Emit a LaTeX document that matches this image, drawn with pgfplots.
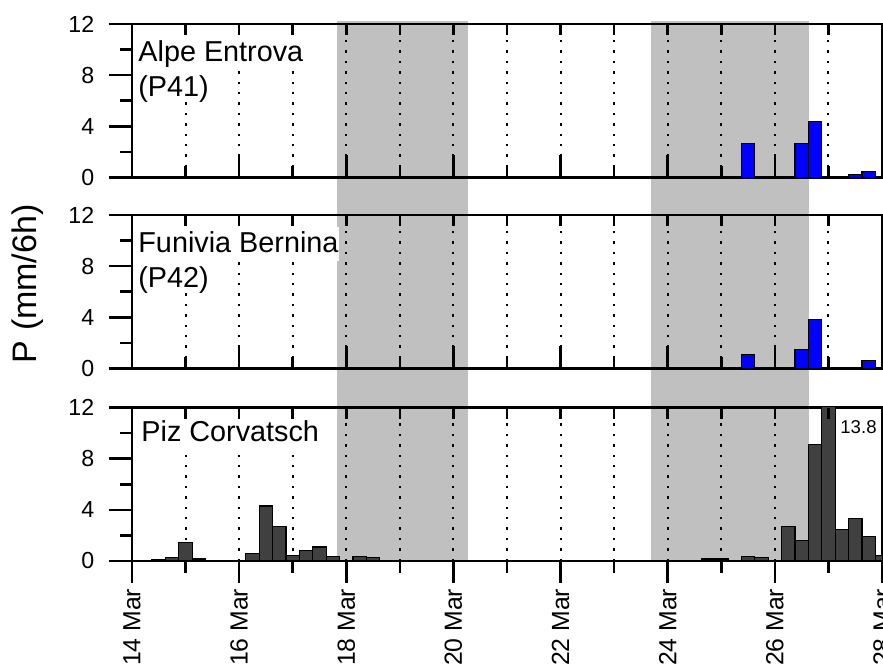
\documentclass[border=0pt]{standalone}
\usepackage{pgfplots}
\pgfplotsset{compat=1.18}
\usepackage{fontspec}
\setmainfont{Liberation Sans}
\usetikzlibrary{backgrounds}
\definecolor{bandgray}{RGB}{192,192,192}
\definecolor{barblue}{RGB}{0,0,255}
\definecolor{bardark}{RGB}{64,64,64}
\tikzset{
  tk/.style={black, line width=1.3pt},
  lab/.style={anchor=base west, fill=white, inner xsep=0pt, inner ysep=0pt, text height=12.5pt, font=\fontsize{14.4}{17}\selectfont},
}
\pgfplotsset{
  panel/.style={
    scale only axis, width=375pt, height=76.75pt,
    anchor=north west,
    xmin=0, xmax=14, ymin=0, ymax=12,
    xtick={0,...,14}, xtick pos=bottom, xtick style={draw=none},
    xmajorgrids,
    major grid style={black, line width=1pt, dash pattern=on 1.2pt off 4pt},
    ytick={0,4,8,12}, minor ytick={2,6,10}, ytick pos=left,
    tick align=outside, major tick length=11.7pt, minor tick length=6pt,
    tick style={black, line width=1.3pt},
    axis line style={line width=1.3pt},
    /pgf/number format/assume math mode=true,
    yticklabel style={font=\fontsize{11.6}{13}\selectfont, inner xsep=0pt, xshift=-7pt},
    clip mode=individual,
  },
  bars/.style={ybar, bar width=0.25, draw=black, line width=0.6pt},
}
\newcommand{\topticks}{\pgfplotsinvokeforeach{0,...,14}{\draw[tk] (axis cs:##1,12) -- ++(0,-5.5pt);}}
\newcommand{\inbottomticks}{%
  \pgfplotsinvokeforeach{1,3,...,13}{\draw[tk] (axis cs:##1,0) -- ++(0,6pt);}%
  \pgfplotsinvokeforeach{0,2,...,14}{\draw[tk] (axis cs:##1,0) -- ++(0,11.2pt);}}
\newcommand{\outbottomticks}{%
  \pgfplotsinvokeforeach{1,3,...,13}{\draw[tk] (axis cs:##1,0) -- ++(0,-6pt);}%
  \pgfplotsinvokeforeach{0,2,...,14}{\draw[tk] (axis cs:##1,0) -- ++(0,-11.2pt);}}
\begin{document}
\begin{tikzpicture}
% Panel 1: Alpe Entrova
\begin{axis}[panel, at={(0pt,0pt)}, xticklabels={}]
\addplot[bars, fill=barblue] coordinates {(11.5,2.65) (12.5,2.65) (12.75,4.4) (13.5,0.25) (13.75,0.45)};
\node[lab, text depth=4.5pt, xshift=3pt, yshift=-18.6pt] at (rel axis cs:0,1) {Alpe Entrova};
\node[lab, text depth=2.5pt, xshift=3pt, yshift=-36pt] at (rel axis cs:0,1) {(P41)};
\topticks
\inbottomticks
\coordinate (g1) at (axis cs:3.82,12);
\coordinate (g2) at (axis cs:9.68,12);
\end{axis}
% Panel 2: Funivia Bernina
\begin{axis}[panel, at={(0pt,-95.5pt)}, xticklabels={}]
\addplot[bars, fill=barblue] coordinates {(11.5,1.1) (12.5,1.5) (12.75,3.85) (13.75,0.65)};
\node[lab, text depth=4.5pt, xshift=3pt, yshift=-18.6pt] at (rel axis cs:0,1) {Funivia Bernina};
\node[lab, text depth=2.5pt, xshift=3pt, yshift=-36pt] at (rel axis cs:0,1) {(P42)};
\topticks
\inbottomticks
\coordinate (ylab) at (rel axis cs:0,0.5);
\end{axis}
% Panel 3: Piz Corvatsch
\begin{axis}[panel, at={(0pt,-191.75pt)},
  xticklabels={14 Mar,,16 Mar,,18 Mar,,20 Mar,,22 Mar,,24 Mar,,26 Mar,,28 Mar},
  xticklabel style={rotate=90, anchor=east, inner sep=2pt, font=\fontsize{12.4}{15}\selectfont}]
\addplot[bars, fill=bardark] coordinates {
 (0.5,0.12) (0.75,0.25) (1.0,1.45) (1.25,0.15)
 (2.25,0.6) (2.5,4.3) (2.75,2.7) (3.0,0.4) (3.25,0.85) (3.5,1.1) (3.75,0.35)
 (4.25,0.35) (4.5,0.25)
 (10.75,0.15) (11.0,0.15) (11.5,0.37) (11.75,0.29)
 (12.25,2.7) (12.5,1.6) (12.75,9.1) (13.0,13.8) (13.25,2.45) (13.5,3.33) (13.75,1.9) (14.0,0.45)};
\node[lab, text depth=3pt, xshift=4.5pt, yshift=-17.2pt] at (rel axis cs:0,1) {Piz Corvatsch};
\node[anchor=base east, inner sep=0pt, font=\fontsize{9.3}{11}\selectfont, xshift=-2.5pt, yshift=-12.9pt] at (rel axis cs:1,1) {13.8};
\topticks
\outbottomticks
\coordinate (h1) at (axis cs:6.28,0);
\coordinate (h2) at (axis cs:12.63,0);
\end{axis}
\begin{pgfonlayer}{background}
\fill[bandgray] ([yshift=1.5pt]g1) rectangle (h1);
\fill[bandgray] ([yshift=1.5pt]g2) rectangle (h2);
\end{pgfonlayer}
\node[rotate=90, anchor=base, font=\fontsize{17}{20}\selectfont] at ([xshift=-47.5pt, yshift=4pt]ylab) {P (mm/6h)};
\pgfresetboundingbox
\path (-66pt,12pt) rectangle (375.5pt,-320pt);
\end{tikzpicture}
\end{document}
